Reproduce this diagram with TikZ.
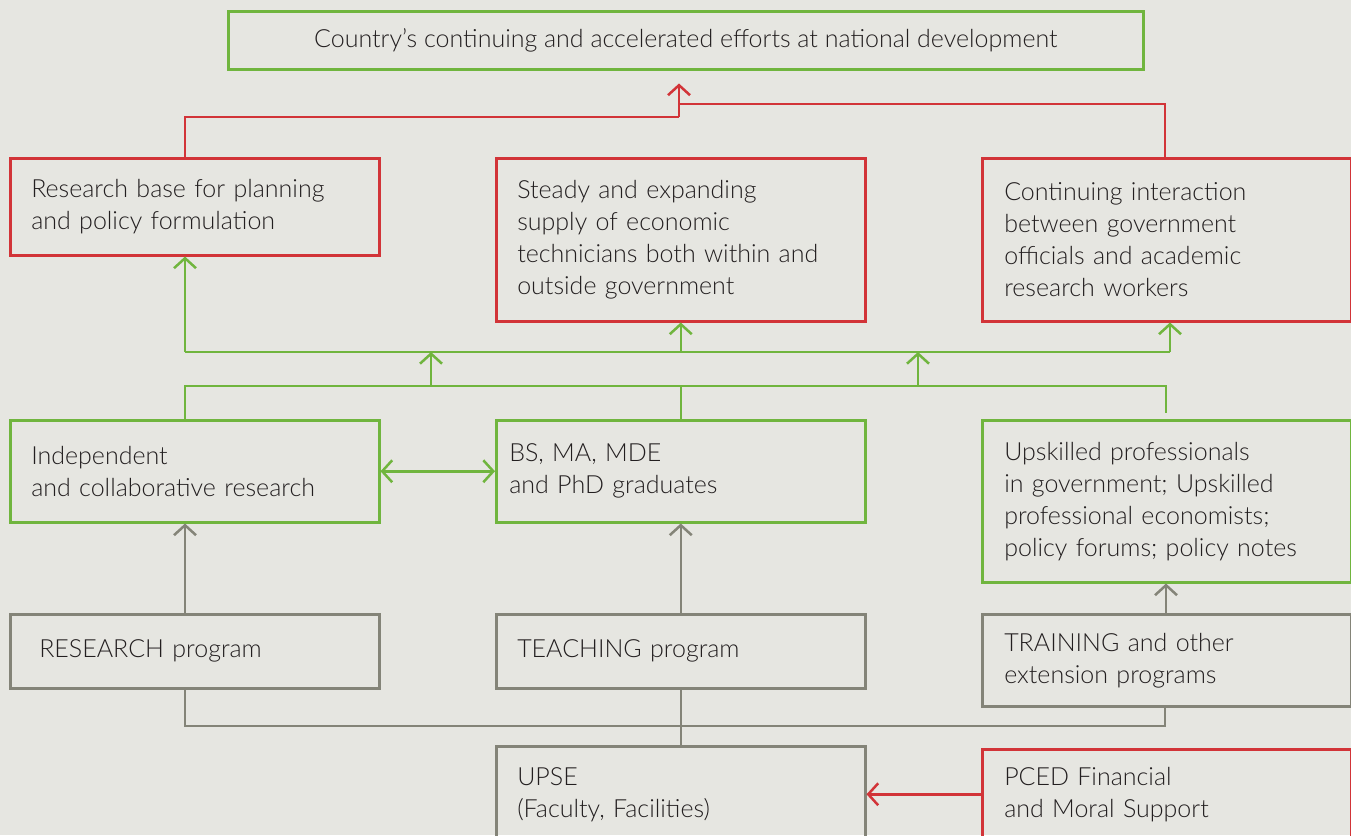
\documentclass[tikz,border=0pt]{standalone}
\usepackage{fontspec}
\setmainfont{Lato Light}
\usetikzlibrary{arrows.meta}
\definecolor{bg}{RGB}{230,230,225}
\definecolor{grn}{RGB}{112,181,62}
\definecolor{rd}{RGB}{210,52,56}
\definecolor{gry}{RGB}{132,132,120}
\definecolor{txt}{RGB}{35,31,32}
\tikzset{
  bx/.style={line width=2.5pt, anchor=north west, align=left, text=txt,
    font=\fontsize{25}{32}\selectfont, inner ysep=0pt},
  gbox/.style={bx, draw=grn},
  rbox/.style={bx, draw=rd},
  kbox/.style={bx, draw=gry},
  conn/.style={line width=2.5pt},
  tip/.style={-{Straight Barb[length=10pt,width=22pt]}},
  dtip/.style={{Straight Barb[length=10pt,width=22pt]}-{Straight Barb[length=10pt,width=22pt]}},
}
\begin{document}
\begin{tikzpicture}[x=1pt,y=-1pt]
\fill[bg] (0,0) rectangle (1351,835);
\useasboundingbox (0,0) rectangle (1351,835);
\clip (0,0) rectangle (1351,835);
% top
\node[gbox, align=center, minimum width=915, minimum height=58, inner xsep=0pt] (T) at (227,10)
  {Country's continuing and accelerated efforts at national development};
% outcomes
\node[rbox, text width=327, inner xsep=21, minimum height=97] (A) at (9,157)
  {Research base for planning\\and policy formulation};
\node[rbox, text width=327, inner xsep=21, minimum height=163] (B) at (495,157)
  {Steady and expanding\\supply of economic\\technicians both within and\\outside government};
\node[rbox, text width=325, inner xsep=22, minimum height=163] (C) at (981,157)
  {Continuing interaction\\between government\\officials and academic\\research workers};
% outputs
\node[gbox, text width=327, inner xsep=21, minimum height=102] (D) at (9,419)
  {Independent\\and collaborative research};
\node[gbox, text width=343, inner xsep=13, minimum height=102] (E) at (495,419)
  {BS, MA, MDE\\and PhD graduates};
\node[gbox, text width=325, inner xsep=22, minimum height=162] (F) at (981,419)
  {Upskilled professionals\\in government; Upskilled\\professional economists;\\policy forums; policy notes};
% programs
\node[kbox, text width=311, inner xsep=29, minimum height=74] (G) at (9,613)
  {RESEARCH program};
\node[kbox, text width=327, inner xsep=21, minimum height=74] (H) at (495,613)
  {TEACHING program};
\node[kbox, text width=325, inner xsep=22, minimum height=92] (I) at (981,613)
  {TRAINING and other\\extension programs};
% base
\node[kbox, text width=327, inner xsep=21, minimum height=96] (J) at (495,745)
  {UPSE\\(Faculty, Facilities)};
\node[rbox, text width=325, inner xsep=22, minimum height=90] (K) at (981,748)
  {PCED Financial\\and Moral Support};
% coordinates
\coordinate (j1) at (679,117);
\coordinate (j2) at (679,104);
\coordinate (ub1) at (185,352);
\coordinate (ub2) at (1170,352);
\coordinate (lb2) at (1166,386);
\coordinate (lb3) at (1166,413);
\coordinate (la1) at (431,386);
\coordinate (la2) at (918,386);
\coordinate (kb) at (680,726);
% red connectors to top
\draw[conn, rd] ([xshift=176pt]A.north west) |- (j1);
\draw[conn, rd] ([xshift=184pt]C.north west) |- (j2);
\draw[conn, rd, tip, shorten >=13pt] (j1) -- (j1 |- T.south);
% green connectors
\draw[conn, grn] (ub1) -- (ub2);
\draw[conn, grn, tip] (ub1) -- (A.south -| ub1);
\draw[conn, grn, tip] (B.south |- ub1) -- (B.south);
\draw[conn, grn, tip] (ub2) -- (C.south -| ub2);
\draw[conn, grn] ([xshift=176pt]D.north west) |- (lb2) -- (lb3);
\draw[conn, grn] (E.north) -- (E.north |- lb2);
\draw[conn, grn, tip] (la1) -- (la1 |- ub1);
\draw[conn, grn, tip] (la2) -- (la2 |- ub1);
\draw[conn, grn, dtip] (D.east) -- (E.west);
% gray connectors
\draw[conn, gry, tip] ([xshift=176pt]G.north west) -- ([xshift=176pt]D.south west);
\draw[conn, gry, tip] (H.north) -- (E.south);
\draw[conn, gry, tip] ([xshift=185pt]I.north west) -- ([xshift=185pt]F.south west);
\draw[conn, gry] ([xshift=176pt]G.south west) |- (kb) -| ([xshift=184pt]I.south west);
\draw[conn, gry] (H.south) -- (J.north);
% red support arrow
\draw[conn, rd, tip] (K.west) -- (K.west -| J.east);
\end{tikzpicture}
\end{document}
